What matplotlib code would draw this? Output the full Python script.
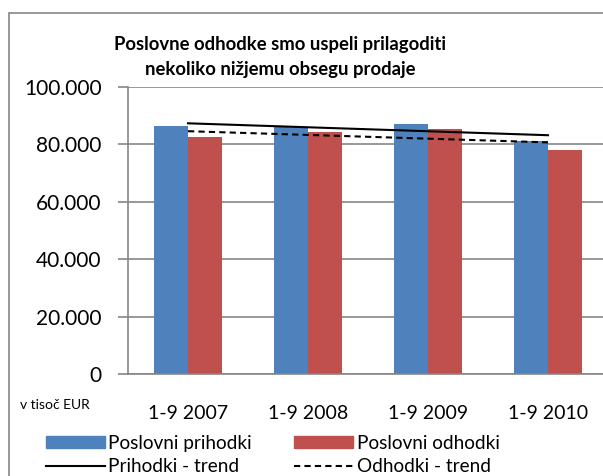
import matplotlib
matplotlib.use("Agg")
import matplotlib.pyplot as plt
from matplotlib.patches import Rectangle, Patch
from matplotlib.lines import Line2D
from matplotlib.ticker import FuncFormatter
import numpy as np

categories = ['1-9 2007', '1-9 2008', '1-9 2009', '1-9 2010']
prihodki = [86400, 86000, 87100, 81300]
odhodki = [82600, 84300, 85300, 78200]
# trend line endpoints (first and last category)
prihodki_trend = [87350, 83200]
odhodki_trend = [84600, 80700]

plt.rcParams['font.family'] = ['Lato', 'DejaVu Sans']

blue = '#4F81BD'
red = '#C0504D'
grid_col = '#868686'

fig = plt.figure(figsize=(6.03, 4.76), dpi=100)
ax = fig.add_axes([128 / 603, 102 / 476, 480 / 603, 287 / 476])

x = np.arange(len(categories))
w = 0.283
ax.bar(x - w / 2, prihodki, w, color=blue, zorder=2)
ax.bar(x + w / 2, odhodki, w, color=red, zorder=2)
ax.plot([x[0], x[-1]], prihodki_trend, color='black', lw=1.5, zorder=3)
ax.plot([x[0], x[-1]], odhodki_trend, color='black', lw=1.5, ls=(0, (3, 2)), zorder=3)

ax.set_xlim(-0.5, 3.5)
ax.set_ylim(0, 100000)
ax.set_yticks(range(0, 100001, 20000))
ax.yaxis.set_major_formatter(FuncFormatter(lambda v, p: '0' if v == 0 else f'{int(v):,}'.replace(',', '.')))
ax.grid(axis='y', color=grid_col, lw=1.2, zorder=0)
ax.set_xticks(x)
ax.set_xticklabels(categories, fontsize=14)
ax.tick_params(axis='y', labelsize=15, length=7, color=grid_col, width=1.2, pad=12)
ax.tick_params(axis='x', length=0, pad=22)
for s in ['top', 'right']:
    ax.spines[s].set_visible(False)
ax.spines['left'].set_color(grid_col)
ax.spines['bottom'].set_color(grid_col)
ax.spines['left'].set_linewidth(1.2)
ax.spines['bottom'].set_linewidth(1.2)

fig.text(280 / 603, 1 - 57 / 476, 'Poslovne odhodke smo uspeli prilagoditi\nnekoliko nižjemu obsegu prodaje',
         ha='center', va='center', fontsize=13.3, fontweight='bold', linespacing=1.55)
fig.text(20 / 603, 1 - 405 / 476, 'v tisoč EUR', ha='left', va='center', fontsize=10)

# outer chart border
fig.patches.append(Rectangle((8.5 / 603, -0.2), 1.2, 1.2 - 12.5 / 476, transform=fig.transFigure,
                             fill=False, edgecolor=grid_col, lw=1.2))

handles = [Patch(color=blue, label='Poslovni prihodki'),
           Line2D([], [], color='black', lw=1.5, label='Prihodki - trend'),
           Patch(color=red, label='Poslovni odhodki'),
           Line2D([], [], color='black', lw=1.5, ls=(0, (3, 2)), label='Odhodki - trend')]
fig.legend(handles=handles, ncol=2, loc='upper left', bbox_to_anchor=(36 / 603, 1 - 425 / 476),
           frameon=False, fontsize=13.7, handlelength=3.1, handleheight=0.55, handletextpad=0.2,
           columnspacing=2.2, labelspacing=0.35, borderpad=0)

fig.savefig('out.png', dpi=100)
